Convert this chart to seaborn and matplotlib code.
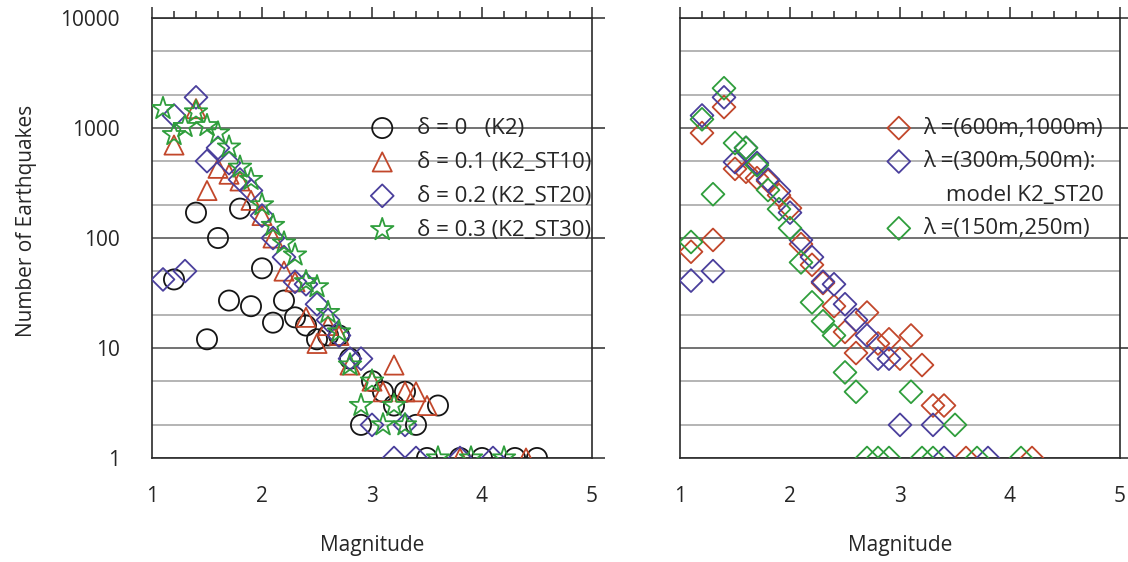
import matplotlib

matplotlib.use("Agg")
import matplotlib.pyplot as plt  # noqa: E402
import seaborn as sns  # noqa: E402
from matplotlib.lines import Line2D  # noqa: E402
from matplotlib.ticker import FixedLocator, MultipleLocator, NullFormatter  # noqa: E402

# ---- data --------------------------------------------------------------------
# left panel: delta series
k2_m = [1.2, 1.4, 1.5, 1.6, 1.7, 1.8, 1.9, 2.0, 2.1, 2.2, 2.3, 2.4, 2.5, 2.6, 2.7,
        2.8, 2.9, 3.0, 3.1, 3.2, 3.3, 3.4, 3.5, 3.6, 3.8, 4.0, 4.3, 4.5]
k2_n = [42, 170, 12, 100, 27, 185, 24, 53, 17, 27, 19, 16, 12, 13, 13,
        8, 2, 5, 4, 3, 4, 2, 1, 3, 1, 1, 1, 1]

st10_m = [1.2, 1.4, 1.5, 1.6, 1.7, 1.8, 1.9, 2.0, 2.1, 2.2, 2.3, 2.4, 2.5, 2.6, 2.7,
          2.8, 3.0, 3.1, 3.2, 3.3, 3.4, 3.5, 3.8, 4.4]
st10_n = [700, 1500, 270, 430, 380, 330, 220, 160, 100, 50, 40, 19, 11, 16, 13,
          7, 5, 4, 7, 4, 4, 3, 1, 1]

st20_m = [1.1, 1.2, 1.3, 1.4, 1.5, 1.6, 1.7, 1.8, 1.9, 2.0, 2.1, 2.2, 2.3, 2.4, 2.5,
          2.6, 2.7, 2.8, 2.9, 3.0, 3.2, 3.3, 3.4, 3.8, 4.1]
st20_n = [42, 1300, 50, 1900, 500, 660, 480, 340, 270, 160, 100, 67, 40, 38, 25,
          18, 13, 8, 8, 2, 1, 2, 1, 1, 1]

st30_m = [1.1, 1.2, 1.3, 1.4, 1.5, 1.6, 1.7, 1.8, 1.9, 2.0, 2.1, 2.2, 2.3, 2.4, 2.5,
          2.6, 2.7, 2.8, 2.9, 3.0, 3.1, 3.2, 3.3, 3.6, 3.9, 4.2]
st30_n = [1500, 870, 1030, 1400, 1050, 900, 670, 440, 340, 200, 130, 90, 70, 40, 36,
          21, 14, 7, 3, 5, 2, 3, 2, 1, 1, 1]

# right panel: lambda series
lam_big_m = [1.1, 1.2, 1.3, 1.4, 1.5, 1.6, 1.7, 1.8, 1.9, 2.0, 2.1, 2.2, 2.3, 2.4, 2.5,
             2.6, 2.7, 2.8, 2.9, 3.0, 3.1, 3.2, 3.3, 3.4, 3.6, 4.2]
lam_big_n = [75, 900, 96, 1550, 425, 400, 350, 330, 245, 187, 88, 57, 39, 24, 14,
             9, 21, 11, 12, 8, 13, 7, 3, 3, 1, 1]

lam_mid_m = [1.1, 1.2, 1.3, 1.4, 1.5, 1.6, 1.7, 1.8, 1.9, 2.0, 2.1, 2.2, 2.3, 2.4, 2.5,
             2.6, 2.7, 2.8, 2.9, 3.0, 3.3, 3.4, 3.8]
lam_mid_n = [41, 1300, 50, 1900, 490, 660, 480, 340, 267, 170, 96, 67, 40, 38, 25,
             18, 13, 8, 8, 2, 2, 1, 1]

lam_small_m = [1.1, 1.2, 1.3, 1.4, 1.5, 1.6, 1.7, 1.8, 1.9, 2.0, 2.1, 2.2, 2.3, 2.4, 2.5,
               2.6, 2.7, 2.8, 2.9, 3.1, 3.2, 3.3, 3.5, 3.7, 4.1]
lam_small_n = [92, 1200, 250, 2300, 730, 660, 460, 273, 183, 123, 60, 26, 17.5, 13, 6,
               4, 1, 1, 1, 4, 1, 1, 2, 1, 1]

left_labels = ["\u03b4 = 0   (K2)", "\u03b4 = 0.1 (K2_ST10)",
               "\u03b4 = 0.2 (K2_ST20)", "\u03b4 = 0.3 (K2_ST30)"]
right_labels = ["\u03bb =(600m,1000m)", "\u03bb =(300m,500m):",
                "    model K2_ST20", "\u03bb =(150m,250m)"]
y_ticks = [1, 10, 100, 1000, 10000]
y_ticklabels = ["1", "10", "100", "1000", "10000"]
x_ticks = [1, 2, 3, 4, 5]

BLACK, RED, BLUE, GREEN = "#151515", "#c2472b", "#4a3f9c", "#2f9e3c"
FS = 15
LFS = 16

sns.set_style("white")
plt.rcParams["font.family"] = ["Open Sans", "DejaVu Sans"]
plt.rcParams["axes.linewidth"] = 1.2
plt.rcParams["axes.edgecolor"] = "#2a2a2a"

W, H = 1128, 562
fig = plt.figure(figsize=(W / 100, H / 100), dpi=100)
ax1 = fig.add_axes([152 / W, 104 / H, 440 / W, 440 / H])
ax2 = fig.add_axes([680 / W, 104 / H, 440 / W, 440 / H])


def pts(ax, m, n, marker, color, s, label):
    sns.scatterplot(x=m, y=n, ax=ax, marker=marker, facecolor="none",
                    edgecolor=color, s=s, linewidth=1.3, label=label, zorder=3)


pts(ax1, k2_m, k2_n, "o", BLACK, 210, left_labels[0])
pts(ax1, st10_m, st10_n, "^", RED, 190, left_labels[1])
pts(ax1, st20_m, st20_n, "D", BLUE, 135, left_labels[2])
pts(ax1, st30_m, st30_n, "*", GREEN, 290, left_labels[3])

pts(ax2, lam_big_m, lam_big_n, "D", RED, 135, right_labels[0])
pts(ax2, lam_mid_m, lam_mid_n, "D", BLUE, 135, right_labels[1])
pts(ax2, lam_small_m, lam_small_n, "D", GREEN, 135, right_labels[3])

for ax in (ax1, ax2):
    ax.set_yscale("log")
    ax.set_xlim(1, 5)
    ax.set_ylim(1, 10000)
    ax.set_xticks(x_ticks)
    ax.xaxis.set_minor_locator(MultipleLocator(0.2))
    ax.yaxis.set_major_locator(FixedLocator(y_ticks))
    ax.yaxis.set_minor_locator(FixedLocator([2, 5, 20, 50, 200, 500, 2000, 5000]))
    ax.yaxis.set_minor_formatter(NullFormatter())
    ax.set_axisbelow(True)
    ax.grid(False)
    ax.grid(axis="y", which="minor", color="#a0a0a0", linewidth=1.1)
    ax.grid(axis="y", which="major", color="#5a5a5a", linewidth=1.2)
    ax.tick_params(axis="both", which="both", direction="out", top=True, right=True,
                   color="#2a2a2a", width=1.1, labelsize=FS)
    ax.tick_params(axis="x", which="major", length=8, pad=12)
    ax.tick_params(axis="x", which="minor", length=5)
    ax.tick_params(axis="y", which="major", length=9, pad=14)
    ax.tick_params(axis="y", which="minor", length=0)
    ax.set_xlabel("Magnitude", fontsize=FS, labelpad=20)
    ax.set_ylabel("")
    for sp in ax.spines.values():
        sp.set_visible(True)

ax1.set_yticklabels(y_ticklabels)
ax2.set_yticklabels([])
ax1.set_ylabel("Number of Earthquakes", fontsize=FS)
ax1.yaxis.set_label_coords(-0.262, 0.54)

h1, l1 = ax1.get_legend_handles_labels()
ax1.legend(h1, l1, loc="upper left", bbox_to_anchor=(0.498, 0.773), frameon=False,
           fontsize=LFS, handlelength=1.0, handletextpad=1.05, borderpad=0,
           borderaxespad=0, labelspacing=0.58)

h2, l2 = ax2.get_legend_handles_labels()
blank = Line2D([], [], linestyle="none", marker="none")
ax2.legend([h2[0], h2[1], blank, h2[2]], right_labels, loc="upper left",
           bbox_to_anchor=(0.472, 0.773), frameon=False, fontsize=LFS,
           handlelength=1.0, handletextpad=0.6, borderpad=0, borderaxespad=0,
           labelspacing=0.56)

fig.savefig("out.png", dpi=100, facecolor="white")
